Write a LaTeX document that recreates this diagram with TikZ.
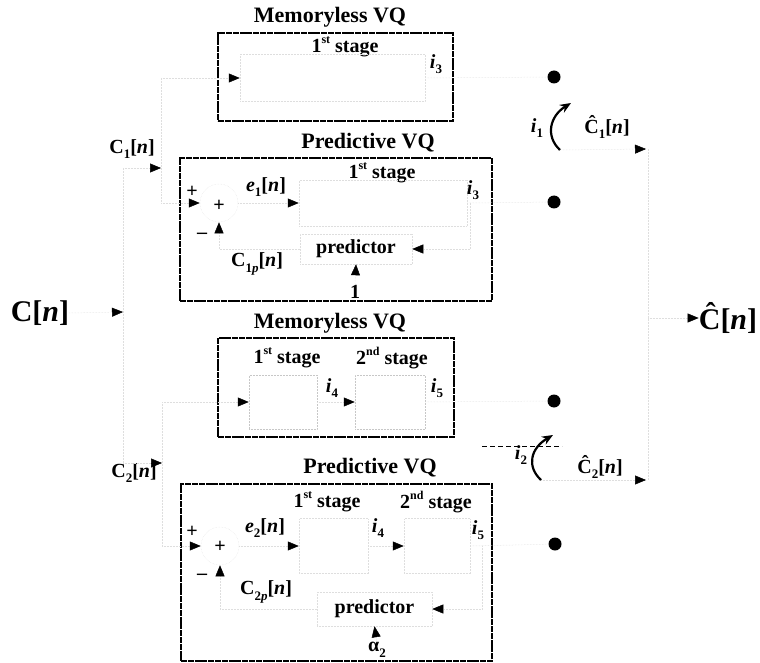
\documentclass[tikz,border=0pt]{standalone}
\usepackage{fontspec}
\setmainfont{Liberation Serif}
\usetikzlibrary{arrows.meta}
\newcommand\sbs[1]{\raisebox{-0.28em}{\fontsize{13}{14}\selectfont #1}}
\newcommand\sps[1]{\raisebox{0.45em}{\fontsize{12}{13}\selectfont #1}}
\begin{document}
\begin{tikzpicture}[x=1pt,y=-1pt,
  vqbox/.style={draw=black,line width=1.3pt,dash pattern=on 6pt off 0.8pt},
  faint/.style={draw=black!13,line width=0.5pt,densely dotted},
  faintbox/.style={draw=black!13,line width=0.5pt,densely dotted,inner sep=0pt},
  arr/.style={-{Triangle[length=11pt,width=9pt,color=black]}},
  lbl/.style={inner sep=0pt,font=\fontsize{20}{24}\selectfont\bfseries},
  ttl/.style={inner sep=0pt,font=\fontsize{22}{26}\selectfont\bfseries},
  big/.style={inner sep=0pt,font=\fontsize{30}{34}\selectfont\bfseries},
  dotnode/.style={circle,fill=black,inner sep=0pt,minimum size=13pt},
  sumnode/.style={circle,draw=black!10,line width=0.5pt,densely dotted,minimum size=38pt,inner sep=0pt},
  sw/.style={line width=2.2pt,-{Stealth[length=11pt,width=9pt]}}
]
\useasboundingbox (0,0) rectangle (760,663);

% outer VQ boxes
\node[vqbox,minimum width=235pt,minimum height=88pt,inner sep=0pt] (box1) at (335.5,77) {};
\node[vqbox,minimum width=312pt,minimum height=143pt,inner sep=0pt] (box2) at (336,229.5) {};
\node[vqbox,minimum width=236pt,minimum height=99pt,inner sep=0pt] (box3) at (336,387.5) {};
\node[vqbox,minimum width=311pt,minimum height=177pt,inner sep=0pt] (box4) at (336.5,572.5) {};

% titles
\node[ttl] (t1) at (330,17) {Memoryless VQ};
\node[ttl] (t2) at (368,143) {Predictive VQ};
\node[ttl] (t3) at (330,323) {Memoryless VQ};
\node[ttl] (t4) at (370,468) {Predictive VQ};

% stage labels
\node[lbl] (s1) at (345,47) {1\sps{st} stage};
\node[lbl] (s2) at (382,173) {1\sps{st} stage};
\node[lbl] (s3a) at (287,358) {1\sps{st} stage};
\node[lbl] (s3b) at (392,358) {2\sps{nd} stage};
\node[lbl] (s4a) at (327,502) {1\sps{st} stage};
\node[lbl] (s4b) at (436,502) {2\sps{nd} stage};

% inner (faint) blocks
\node[faintbox,minimum width=185pt,minimum height=47pt] (st1) at (332.5,78) {};
\node[faintbox,minimum width=168pt,minimum height=46pt] (st2) at (383,203) {};
\node[faintbox,lbl,minimum width=112pt,minimum height=30pt] (p1) at (356,249) {predictor};
\node[faintbox,draw=black!22,minimum width=68pt,minimum height=54pt] (qa) at (283,402) {};
\node[faintbox,draw=black!22,minimum width=70pt,minimum height=54pt] (qb) at (390,402) {};
\node[faintbox,minimum width=69pt,minimum height=55pt] (qc) at (333.5,546) {};
\node[faintbox,minimum width=66pt,minimum height=55pt] (qd) at (437,546) {};
\node[faintbox,lbl,minimum width=115pt,minimum height=34pt] (p2) at (374.5,609) {predictor};
\node[sumnode] (sum1) at (219,203) {};
\node[sumnode] (sum2) at (220,546) {};

% index labels
\node[lbl] (i3a) at (436,64) {\textit{i}\sbs{3}};
\node[lbl] (i3b) at (473,190) {\textit{i}\sbs{3}};
\node[lbl] (i4a) at (332,388) {\textit{i}\sbs{4}};
\node[lbl] (i5a) at (437,388) {\textit{i}\sbs{5}};
\node[lbl] (i4b) at (378,528) {\textit{i}\sbs{4}};
\node[lbl] (i5b) at (478,530) {\textit{i}\sbs{5}};

% signal labels
\node[big] (cin) at (40,313) {C[\textit{n}]};
\node[big] (chat) at (728,318) {Ĉ[\textit{n}]};
\node[lbl] (c1) at (132,149) {C\sbs{1}[\textit{n}]};
\node[lbl] (c2) at (134,473) {C\sbs{2}[\textit{n}]};
\node[lbl] (ch1) at (607,127) {Ĉ\sbs{1}[\textit{n}]};
\node[lbl] (ch2) at (600,467) {Ĉ\sbs{2}[\textit{n}]};
\node[lbl] (e1) at (266,187) {\textit{e}\sbs{1}[\textit{n}]};
\node[lbl] (e2) at (265,528) {\textit{e}\sbs{2}[\textit{n}]};
\node[lbl] (c1p) at (257,264) {C\sbs{1\textit{p}}[\textit{n}]};
\node[lbl] (c2p) at (266,592) {C\sbs{2\textit{p}}[\textit{n}]};
\node[lbl] (one) at (355,292) {1};
\node[lbl] (alpha) at (377,650) {α\sbs{2}};
\node[lbl] (i1) at (537,128) {\textit{i}\sbs{1}};
\node[lbl] (i2) at (521,455) {\textit{i}\sbs{2}};

% signs
\node[lbl] (pa1) at (192,192) {+};
\node[lbl] (pb1) at (219,206) {+};
\node[lbl] (m1) at (202,236) {–};
\node[lbl] (pa2) at (192,532) {+};
\node[lbl] (pb2) at (220,547) {+};
\node[lbl] (m2) at (202,577) {–};

% switch contacts
\node[dotnode] (d1) at (554,77) {};
\node[dotnode] (d2) at (554,202) {};
\node[dotnode] (d3) at (554,401) {};
\node[dotnode] (d4) at (555,544) {};

% input distribution
\coordinate (cinT) at (123,312);
\coordinate (sp1) at (123,168);
\coordinate (sp2) at (123,463);
\coordinate (c1T) at (161,168);
\coordinate (c2T) at (162,463);
\coordinate (b1u) at (161,78);
\coordinate (b1d) at (161,203);
\coordinate (b3u) at (162,402);
\coordinate (b3d) at (162,546);
\draw[faint,arr] (cin.east) -- (cinT);
\draw[faint] (sp1) -- (sp2);
\draw[faint,arr] (sp1) -- (c1T);
\draw[faint,arr] (sp2) -- (c2T);
\draw[faint] (b1u) -- (b1d);
\draw[faint] (b3u) -- (b3d);

% memoryless 1 stage
\draw[faint,arr] (b1u) -- (st1.west);
\draw[faint] (st1.east) -- (d1);

% predictive 1 stage
\draw[faint,arr] (b1d) -- (sum1.west);
\draw[faint,arr] (sum1.east) -- (st2.west);
\draw[faint] (st2.east) -- (d2);
\coordinate (fb1) at (470,203);
\draw[faint,arr] (fb1) |- (p1.east);
\draw[faint,arr] (one.north) -- (p1.south);
\draw[faint,arr] (p1.west) -| (sum1.south);

% memoryless 2 stage
\draw[faint,arr] (b3u) -- (qa.west);
\draw[faint,arr] (qa.east) -- (qb.west);
\draw[faint] (qb.east) -- (d3);

% predictive 2 stage
\draw[faint,arr] (b3d) -- (sum2.west);
\draw[faint,arr] (sum2.east) -- (qc.west);
\draw[faint,arr] (qc.east) -- (qd.west);
\draw[faint] (qd.east) -- (d4);
\coordinate (fb2) at (482,546);
\draw[faint,arr] (fb2) |- (p2.east);
\draw[faint,arr] (alpha.north) -- (p2.south);
\draw[faint,arr] (p2.west) -| (sum2.south);

% switches
\coordinate (pv1) at (560,150);
\coordinate (pv2) at (541,480);
\draw[sw] (pv1) .. controls (545,136) and (550,116) .. (571,103);
\draw[sw] (pv2) .. controls (526,466) and (531,448) .. (553,435);
\coordinate (dl1) at (482,446);
\coordinate (dl2) at (562,446);
\draw[line width=0.9pt,dash pattern=on 5pt off 3pt] (dl1) -- (dl2);

% output combination
\coordinate (o1T) at (646,149);
\coordinate (o2T) at (646,480);
\coordinate (mt) at (648,149);
\coordinate (mb) at (648,480);
\coordinate (mc) at (648,318);
\draw[faint,arr] (pv1) -- (o1T);
\draw[faint,arr] (pv2) -- (o2T);
\draw[faint] (mt) -- (mb);
\draw[faint,arr] (mc) -- (chat.west);
\end{tikzpicture}
\end{document}
